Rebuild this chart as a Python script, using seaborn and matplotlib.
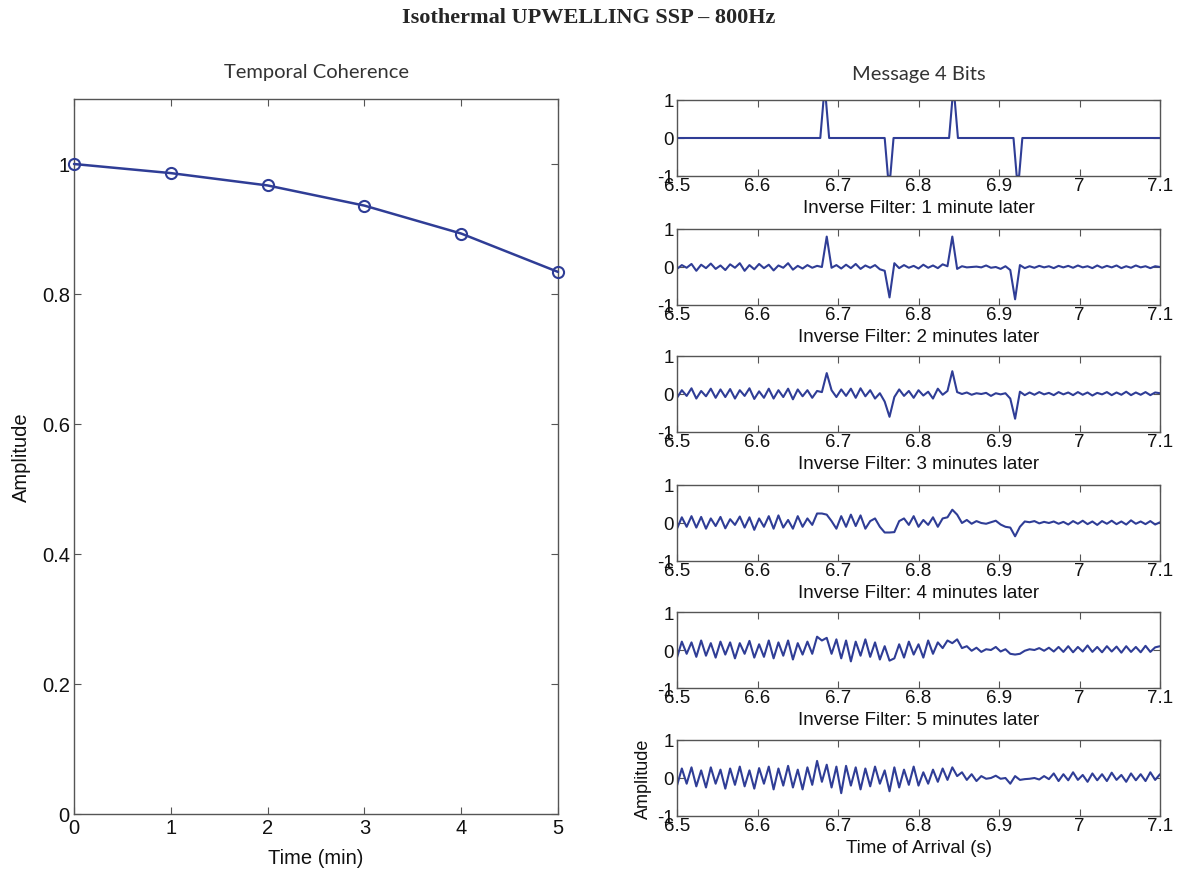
import numpy as np
import pandas as pd
import matplotlib
matplotlib.use("Agg")
import matplotlib.pyplot as plt
import seaborn as sns

# ---------------- data ----------------
coh_time = [0, 1, 2, 3, 4, 5]
coh_amp = [1.0, 0.986, 0.967, 0.936, 0.893, 0.834]

# clean 4-bit message (pulse positions and signs)
msg_t = [6.5, 6.678, 6.682, 6.685, 6.689, 6.758, 6.762, 6.765, 6.769,
         6.838, 6.842, 6.845, 6.849, 6.918, 6.922, 6.925, 6.929, 7.1]
msg_v = [0, 0, 1, 1, 0, 0, -1, -1, 0,
         0, 1, 1, 0, 0, -1, -1, 0, 0]

# inverse-filter outputs, sampled every 6 ms from 6.5 s to 7.1 s (101 samples)
filt_1min = [
    -0.05, 0.05, -0.02, 0.08, -0.10, 0.06, -0.03, 0.09, -0.05, 0.04,
    -0.08, 0.07, -0.02, 0.10, -0.10, 0.05, -0.06, 0.08, -0.03, 0.06,
    -0.09, 0.04, -0.02, 0.10, -0.07, 0.03, -0.04, 0.05, -0.02, 0.03,
    0.00, 0.80, -0.02, 0.05, -0.04, 0.06, -0.03, 0.08, -0.05, 0.04,
    -0.02, 0.05, -0.06, -0.10, -0.80, 0.10, -0.03, 0.05, -0.02, 0.03,
    -0.04, 0.06, -0.02, 0.04, -0.03, 0.07, 0.02, 0.80, -0.05, 0.02,
    -0.01, 0.00, 0.01, -0.01, 0.04, -0.02, 0.00, -0.05, 0.02, -0.08,
    -0.85, 0.05, -0.03, 0.02, -0.02, 0.03, -0.01, 0.02, -0.03, 0.03,
    -0.01, 0.03, -0.02, 0.04, -0.01, 0.02, -0.03, 0.04, -0.02, 0.03,
    -0.01, 0.04, -0.03, 0.02, -0.02, 0.04, -0.01, 0.02, -0.03, 0.02,
    0.00]
filt_2min = [
    -0.10, 0.10, -0.05, 0.15, -0.12, 0.08, -0.06, 0.14, -0.10, 0.12,
    -0.08, 0.13, -0.12, 0.10, -0.05, 0.15, -0.13, 0.07, -0.10, 0.14,
    -0.12, 0.10, -0.08, 0.14, -0.14, 0.12, -0.06, 0.10, -0.10, 0.08,
    0.05, 0.55, 0.10, -0.08, 0.12, -0.05, 0.14, -0.10, 0.15, -0.06,
    0.10, -0.12, 0.02, -0.20, -0.60, -0.08, 0.12, -0.05, 0.08, -0.10,
    0.10, -0.04, 0.06, -0.12, 0.14, -0.02, 0.08, 0.60, 0.05, 0.00,
    0.04, -0.02, 0.02, 0.00, 0.03, -0.05, 0.02, -0.01, 0.02, -0.12,
    -0.65, 0.06, -0.03, 0.04, -0.02, 0.05, -0.01, 0.03, -0.03, 0.05,
    -0.01, 0.04, -0.03, 0.05, -0.02, 0.04, -0.04, 0.03, -0.01, 0.05,
    -0.03, 0.04, -0.02, 0.06, -0.03, 0.04, -0.02, 0.05, -0.03, 0.04,
    0.02]
filt_3min = [
    -0.15, 0.15, -0.10, 0.18, -0.12, 0.16, -0.15, 0.12, -0.08, 0.16,
    -0.14, 0.10, -0.05, 0.17, -0.12, 0.15, -0.18, 0.12, -0.10, 0.18,
    -0.15, 0.20, -0.12, 0.08, -0.15, 0.18, -0.10, 0.12, -0.05, 0.25,
    0.25, 0.22, 0.05, -0.15, 0.18, -0.10, 0.22, -0.08, 0.20, -0.15,
    0.05, 0.12, -0.10, -0.25, -0.25, -0.24, 0.05, 0.12, -0.05, 0.18,
    -0.10, 0.08, -0.05, 0.15, -0.10, 0.12, 0.15, 0.35, 0.22, 0.00,
    0.08, -0.02, 0.05, 0.00, -0.02, 0.02, 0.06, -0.04, -0.10, -0.12,
    -0.35, -0.10, 0.04, 0.02, 0.05, -0.01, 0.03, 0.00, 0.04, -0.02,
    0.03, -0.04, 0.05, -0.02, 0.06, -0.03, 0.04, -0.05, 0.05, -0.02,
    0.06, -0.03, 0.04, -0.04, 0.07, -0.02, 0.04, -0.03, 0.05, -0.04,
    0.02]
filt_4min = [
    -0.20, 0.22, -0.10, 0.20, -0.18, 0.25, -0.15, 0.18, -0.20, 0.22,
    -0.12, 0.20, -0.22, 0.18, -0.10, 0.24, -0.20, 0.15, -0.18, 0.25,
    -0.22, 0.20, -0.15, 0.25, -0.25, 0.18, -0.12, 0.22, -0.10, 0.35,
    0.25, 0.32, -0.10, 0.28, -0.22, 0.25, -0.30, 0.22, -0.15, 0.28,
    -0.18, 0.20, -0.25, 0.10, -0.28, -0.22, 0.15, -0.20, 0.22, -0.12,
    0.15, -0.20, 0.25, -0.10, 0.20, 0.05, 0.25, 0.18, 0.28, 0.05,
    0.10, -0.02, 0.06, -0.05, 0.02, 0.00, 0.08, -0.04, 0.02, -0.10,
    -0.12, -0.10, -0.02, 0.02, 0.00, 0.05, -0.02, 0.06, -0.04, 0.08,
    -0.05, 0.10, -0.06, 0.08, -0.04, 0.12, -0.05, 0.08, -0.06, 0.10,
    -0.04, 0.09, -0.07, 0.10, -0.05, 0.08, -0.06, 0.11, -0.05, 0.07,
    0.10]
filt_5min = [
    -0.20, 0.25, -0.15, 0.28, -0.22, 0.20, -0.25, 0.28, -0.15, 0.22,
    -0.28, 0.25, -0.18, 0.30, -0.22, 0.20, -0.28, 0.26, -0.15, 0.30,
    -0.30, 0.25, -0.20, 0.32, -0.25, 0.22, -0.30, 0.28, -0.18, 0.45,
    -0.10, 0.35, -0.25, 0.30, -0.40, 0.32, -0.20, 0.28, -0.30, 0.25,
    -0.22, 0.30, -0.15, 0.20, -0.35, 0.28, -0.25, 0.22, -0.18, 0.30,
    -0.20, 0.15, -0.15, 0.22, -0.10, 0.25, -0.05, 0.28, 0.05, 0.15,
    -0.05, 0.10, -0.08, 0.05, -0.02, 0.00, 0.06, -0.02, 0.00, -0.15,
    0.05, -0.05, -0.03, -0.02, 0.00, -0.04, 0.05, -0.03, 0.12, -0.08,
    0.10, -0.06, 0.15, -0.05, 0.08, -0.10, 0.12, -0.06, 0.10, -0.08,
    0.14, -0.05, 0.08, -0.10, 0.12, -0.06, 0.10, -0.08, 0.15, -0.05,
    0.10]

panel_labels = ["Inverse Filter: 1 minute later", "Inverse Filter: 2 minutes later",
                "Inverse Filter: 3 minutes later", "Inverse Filter: 4 minutes later",
                "Inverse Filter: 5 minutes later", "Time of Arrival (s)"]
x_ticks_r = [6.5, 6.6, 6.7, 6.8, 6.9, 7.0, 7.1]
x_ticklabels_r = ["6.5", "6.6", "6.7", "6.8", "6.9", "7", "7.1"]
y_ticks_l = [0, 0.2, 0.4, 0.6, 0.8, 1.0]
y_ticklabels_l = ["0", "0.2", "0.4", "0.6", "0.8", "1"]

# ---------------- style ----------------
sns.set_theme(style="white")
plt.rcParams['font.family'] = ['Liberation Sans', 'DejaVu Sans']
plt.rcParams['axes.edgecolor'] = '#555555'
plt.rcParams['axes.linewidth'] = 1.0
LINE = '#2f3d96'

W, H = 1177, 878
fig = plt.figure(figsize=(W / 100, H / 100), dpi=100)

def box(x0, y0, x1, y1):
    return [x0 / W, 1 - y1 / H, (x1 - x0) / W, (y1 - y0) / H]

def matlab_ticks(ax, size):
    ax.tick_params(direction='in', length=5, width=0.8, color='#555555',
                   top=True, right=True, bottom=True, left=True,
                   labelsize=size, labelcolor='#111111', pad=3)

# left panel
axL = fig.add_axes(box(74, 100, 558, 815))
sns.lineplot(x=coh_time, y=coh_amp, ax=axL, color=LINE, linewidth=1.8,
             marker='o', markersize=8, markerfacecolor='none',
             markeredgecolor=LINE, markeredgewidth=1.5, clip_on=False, zorder=5)
axL.set_xlim(0, 5)
axL.set_ylim(0, 1.1)
axL.set_xticks(coh_time)
axL.set_xticklabels([str(v) for v in coh_time])
axL.set_yticks(y_ticks_l)
axL.set_yticklabels(y_ticklabels_l)
matlab_ticks(axL, 14.5)
axL.set_xlabel("Time (min)", fontsize=14.5, labelpad=8, color='#111111')
axL.set_ylabel("Amplitude", fontsize=14.5, labelpad=8, color='#111111')
axL.set_title("Temporal Coherence", fontsize=14.5, pad=16, color='#333333',
              family=['Lato', 'DejaVu Sans'])

# right panels
tops = [101, 230, 357, 486, 613, 741]
traces = [None, filt_1min, filt_2min, filt_3min, filt_4min, filt_5min]
t_grid = np.round(np.arange(101) * 0.006 + 6.5, 4)
for i, (top, tr) in enumerate(zip(tops, traces)):
    ax = fig.add_axes(box(677, top, 1160, top + 76))
    if tr is None:
        df = pd.DataFrame({"t": msg_t, "v": msg_v})
    else:
        df = pd.DataFrame({"t": t_grid, "v": tr})
    sns.lineplot(data=df, x="t", y="v", ax=ax, color=LINE, linewidth=1.5,
                 sort=False, estimator=None)
    ax.set_xlim(6.5, 7.1)
    ax.set_ylim(-1, 1)
    ax.set_xticks(x_ticks_r)
    ax.set_xticklabels(x_ticklabels_r)
    ax.set_yticks([-1, 0, 1])
    ax.set_yticklabels(["-1", "0", "1"])
    matlab_ticks(ax, 13.5)
    ax.tick_params(axis='y', pad=2)
    ax.tick_params(axis='x', pad=1)
    ax.set_xlabel(panel_labels[i], fontsize=13.5, labelpad=3, color='#111111')
    if i == 0:
        ax.set_title("Message 4 Bits", fontsize=14.5, pad=15, color='#333333',
                     family=['Lato', 'DejaVu Sans'])
        ax.set_ylabel("")
    elif i == 5:
        ax.set_ylabel("Amplitude", fontsize=13, labelpad=4, color='#111111')
    else:
        ax.set_ylabel("")

fig.text(0.5, 1 - 18 / H, "Isothermal UPWELLING SSP \u2013 800Hz", ha='center', va='center',
         fontsize=16, fontweight='bold', family=['Liberation Serif', 'DejaVu Serif'])

fig.savefig("out.png", dpi=100, facecolor='white')
